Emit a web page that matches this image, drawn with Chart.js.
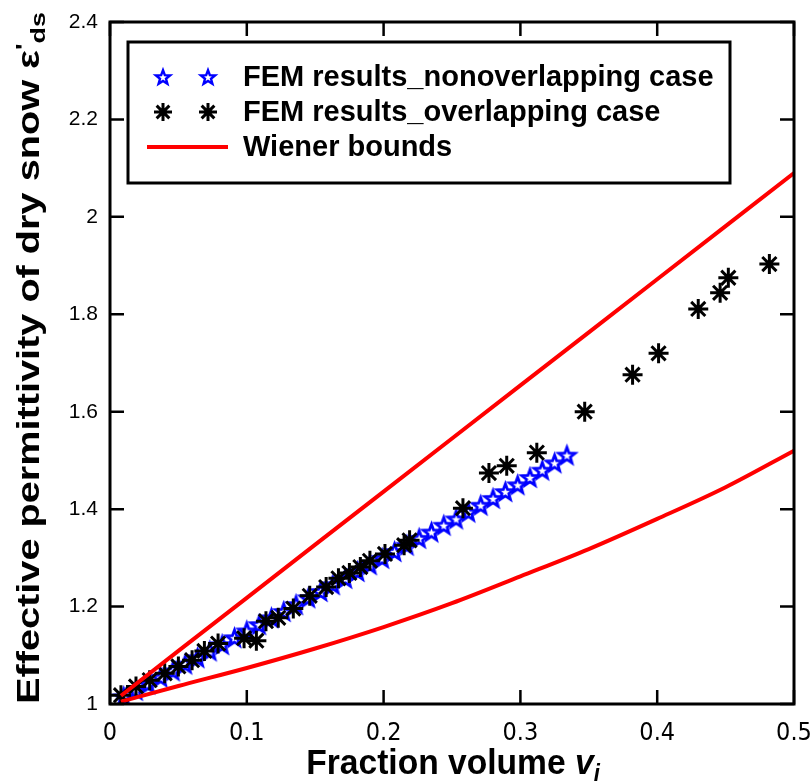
<!DOCTYPE html>
<html>
<head>
<meta charset="utf-8">
<script src="https://cdn.jsdelivr.net/npm/chart.js@4.4.1/dist/chart.umd.min.js"></script>
<style>
  html, body { margin: 0; padding: 0; background: #fff; }
  #wrap { width: 812px; height: 781px; position: relative; }
</style>
</head>
<body>
<div id="wrap"><canvas id="c" width="812" height="781"></canvas></div>
<script>
// Fraction volume of ice v_i for the non-overlapping FEM runs
const nonOverlapV = [0.010, 0.019, 0.028, 0.037, 0.046, 0.055, 0.064, 0.073, 0.082, 0.091,
  0.100, 0.109, 0.118, 0.127, 0.136, 0.145, 0.154, 0.163, 0.172, 0.181,
  0.190, 0.199, 0.208, 0.217, 0.226, 0.235, 0.244, 0.253, 0.262, 0.271,
  0.280, 0.289, 0.298, 0.307, 0.316, 0.325, 0.334];
const nonOverlapEps = [1.015, 1.028, 1.041, 1.055, 1.068, 1.082, 1.095, 1.109, 1.122, 1.136,
  1.150, 1.163, 1.177, 1.190, 1.204, 1.218, 1.231, 1.245, 1.258, 1.272,
  1.286, 1.299, 1.313, 1.326, 1.340, 1.353, 1.367, 1.380, 1.394, 1.408,
  1.422, 1.436, 1.450, 1.465, 1.480, 1.495, 1.511];

// Overlapping-inclusion FEM runs
const overlapV = [0.008, 0.019, 0.029, 0.040, 0.050, 0.060, 0.069, 0.079, 0.098, 0.107,
  0.114, 0.123, 0.134, 0.146, 0.158, 0.167, 0.175, 0.183, 0.190, 0.201,
  0.215, 0.219, 0.258, 0.277, 0.290, 0.312, 0.347, 0.382, 0.401, 0.430,
  0.446, 0.452, 0.482];
const overlapEps = [1.018, 1.036, 1.049, 1.063, 1.077, 1.090, 1.109, 1.124, 1.135, 1.130,
  1.170, 1.177, 1.196, 1.222, 1.240, 1.258, 1.269, 1.281, 1.294, 1.308,
  1.326, 1.336, 1.402, 1.474, 1.489, 1.516, 1.600, 1.676, 1.720, 1.811,
  1.844, 1.875, 1.903];

// Wiener bounds (upper: parallel, lower: series mixing)
const wienerV     = [0.008, 0.05, 0.10, 0.15, 0.20, 0.25, 0.30, 0.35, 0.40, 0.45, 0.50];
const wienerUpper = [1.017, 1.109, 1.218, 1.327, 1.436, 1.545, 1.654, 1.763, 1.872, 1.981, 2.090];
const wienerLower = [1.005, 1.037, 1.074, 1.114, 1.158, 1.207, 1.262, 1.318, 1.380, 1.445, 1.520];

const xTicks = [0, 0.1, 0.2, 0.3, 0.4, 0.5];
const yTicks = [1, 1.2, 1.4, 1.6, 1.8, 2, 2.2, 2.4];

const legendLabels = ['FEM results_nonoverlapping case', 'FEM results_overlapping case', 'Wiener bounds'];

const BLUE = '#0000ff';
const RED = '#ff0000';

function pairs(xs, ys) { return xs.map((v, i) => ({ x: v, y: ys[i] })); }

// hollow five-pointed star used as a point style
function pentagram(outer, lw) {
  const size = Math.ceil(outer * 2 + lw * 2 + 2);
  const cv = document.createElement('canvas');
  cv.width = size; cv.height = size;
  const g = cv.getContext('2d');
  const c = size / 2, inner = outer * 0.42;
  g.beginPath();
  for (let k = 0; k < 10; k++) {
    const r = k % 2 === 0 ? outer : inner;
    const a = -Math.PI / 2 + k * Math.PI / 5;
    const px = c + r * Math.cos(a), py = c + r * Math.sin(a) + outer * 0.1;
    if (k === 0) g.moveTo(px, py); else g.lineTo(px, py);
  }
  g.closePath();
  g.strokeStyle = BLUE; g.lineWidth = lw; g.lineJoin = 'miter';
  g.stroke();
  return cv;
}
const starBig = pentagram(8.5, 2.8);
const starSmall = pentagram(7.5, 2.4);

function drawParts(ctx, parts, x, y, align) {
  let total = 0;
  parts.forEach(p => { ctx.font = p.font; p.w = ctx.measureText(p.text).width; total += p.w; });
  let cx = align === 'center' ? x - total / 2 : x;
  parts.forEach(p => {
    ctx.font = p.font;
    ctx.fillText(p.text, cx, y + (p.dy || 0));
    cx += p.w;
  });
}

const decor = {
  id: 'decor',
  afterDraw(chart) {
    const { ctx, chartArea: a, scales: { x, y } } = chart;
    ctx.save();
    // frame and inward ticks on all four sides
    ctx.strokeStyle = '#000';
    ctx.lineWidth = 3;
    ctx.strokeRect(a.left, a.top, a.right - a.left, a.bottom - a.top);
    ctx.lineWidth = 2.5;
    const tl = 14;
    ctx.beginPath();
    xTicks.forEach(v => {
      const px = x.getPixelForValue(v);
      ctx.moveTo(px, a.bottom); ctx.lineTo(px, a.bottom - tl);
      ctx.moveTo(px, a.top); ctx.lineTo(px, a.top + tl);
    });
    yTicks.forEach(v => {
      const py = y.getPixelForValue(v);
      ctx.moveTo(a.left, py); ctx.lineTo(a.left + tl, py);
      ctx.moveTo(a.right, py); ctx.lineTo(a.right - tl, py);
    });
    ctx.stroke();

    // legend box
    const L = 128, T = 42, R = 730, B = 183;
    ctx.fillStyle = '#fff';
    ctx.fillRect(L, T, R - L, B - T);
    ctx.lineWidth = 3;
    ctx.strokeRect(L, T, R - L, B - T);
    const rows = [77, 112, 147];
    const m1 = 163, m2 = 208;
    ctx.drawImage(starSmall, m1 - starSmall.width / 2, rows[0] - starSmall.height / 2);
    ctx.drawImage(starSmall, m2 - starSmall.width / 2, rows[0] - starSmall.height / 2);
    ctx.strokeStyle = '#000';
    Chart.helpers.drawPoint(ctx, { pointStyle: 'star', radius: 9, borderWidth: 3 }, m1, rows[1]);
    Chart.helpers.drawPoint(ctx, { pointStyle: 'star', radius: 9, borderWidth: 3 }, m2, rows[1]);
    ctx.strokeStyle = RED; ctx.lineWidth = 4;
    ctx.beginPath(); ctx.moveTo(147, rows[2]); ctx.lineTo(228, rows[2]); ctx.stroke();
    ctx.fillStyle = '#000';
    ctx.textBaseline = 'middle';
    ctx.textAlign = 'left';
    ctx.font = 'bold 29px "Liberation Sans", Arial, sans-serif';
    legendLabels.forEach((t, i) => ctx.fillText(t, 243, rows[i] + 1));

    // x axis title
    ctx.textBaseline = 'alphabetic';
    ctx.save();
    ctx.translate(453, 774);
    ctx.scale(0.96, 1);
    drawParts(ctx, [
      { text: 'Fraction volume ', font: 'bold 35px "Liberation Sans", Arial, sans-serif' },
      { text: 'v', font: 'bold italic 35px "Liberation Sans", Arial, sans-serif' },
      { text: 'i', font: 'bold italic 23px "Liberation Sans", Arial, sans-serif', dy: 7 }
    ], 0, 0, 'center');
    ctx.restore();

    // y axis title
    ctx.save();
    ctx.translate(39, 358);
    ctx.rotate(-Math.PI / 2);
    ctx.scale(1.28, 1);
    drawParts(ctx, [
      { text: 'Effective permittivity of dry snow ', font: 'bold 31px "Liberation Sans", Arial, sans-serif' },
      { text: 'ε', font: 'bold 31px "Liberation Sans", Arial, sans-serif' },
      { text: '\'', font: 'bold 22px "Liberation Sans", Arial, sans-serif', dy: -8 },
      { text: 'ds', font: 'bold 21px "Liberation Sans", Arial, sans-serif', dy: 6 }
    ], 0, 0, 'center');
    ctx.restore();
    ctx.restore();
  }
};

new Chart(document.getElementById('c'), {
  type: 'scatter',
  data: {
    datasets: [
      { label: 'Wiener bounds', data: pairs(wienerV, wienerUpper), showLine: true,
        borderColor: RED, borderWidth: 4, pointRadius: 0, fill: false },
      { label: 'Wiener bounds (lower)', data: pairs(wienerV, wienerLower), showLine: true,
        borderColor: RED, borderWidth: 4, pointRadius: 0, fill: false, cubicInterpolationMode: 'monotone' },
      { label: legendLabels[1], data: pairs(overlapV, overlapEps),
        pointStyle: 'star', pointRadius: 10, borderWidth: 3, borderColor: '#000', backgroundColor: '#000' },
      { label: legendLabels[0], data: pairs(nonOverlapV, nonOverlapEps),
        pointStyle: starBig, pointRadius: 8 }
    ]
  },
  options: {
    responsive: false,
    animation: false,
    events: [],
    layout: { padding: { top: 22, right: 18, left: 0, bottom: 0 } },
    plugins: { legend: { display: false }, tooltip: { enabled: false } },
    scales: {
      x: {
        type: 'linear', min: 0, max: 0.5,
        afterFit(s) { s.height = 77; s.paddingLeft = 0; s.paddingRight = 0; },
        afterBuildTicks(s) { s.ticks = xTicks.map(v => ({ value: v })); },
        grid: { display: false, drawTicks: false },
        border: { display: false },
        ticks: {
          padding: 14, color: '#000',
          font: { family: '"Liberation Sans Narrow", "DejaVu Sans Condensed", sans-serif', size: 25 },
          callback: v => String(v)
        }
      },
      y: {
        type: 'linear', min: 1, max: 2.4,
        afterFit(s) { s.width = 110; s.paddingTop = 0; s.paddingBottom = 0; },
        afterBuildTicks(s) { s.ticks = yTicks.map(v => ({ value: v })); },
        grid: { display: false, drawTicks: false },
        border: { display: false },
        ticks: {
          padding: 12, color: '#000',
          font: { family: '"Liberation Sans", Arial, sans-serif', size: 21 },
          callback: v => String(v)
        }
      }
    }
  },
  plugins: [decor]
});
</script>
</body>
</html>
